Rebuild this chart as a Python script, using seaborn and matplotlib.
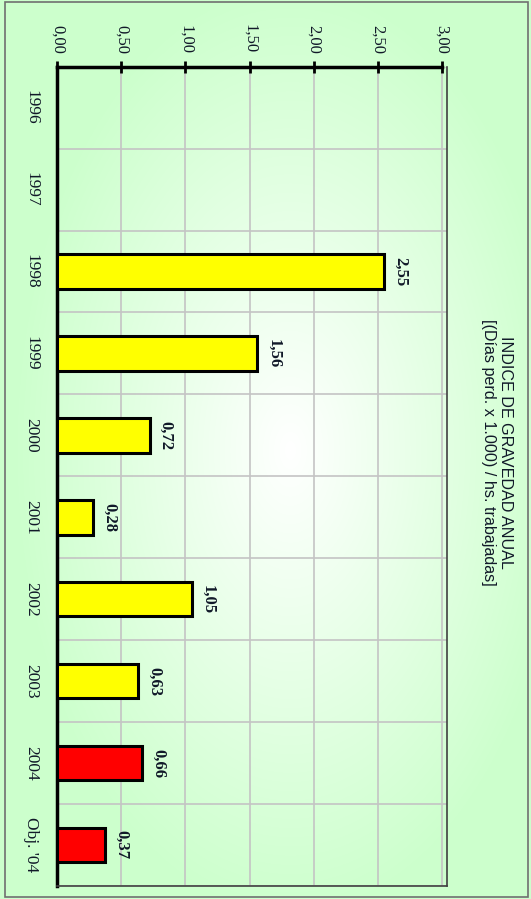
import numpy as np
import pandas as pd
import matplotlib
matplotlib.use("Agg")
import matplotlib.pyplot as plt
from matplotlib.patches import Rectangle
import seaborn as sns

categories = ["1996", "1997", "1998", "1999", "2000", "2001", "2002", "2003", "2004", "Obj. '04"]
values = [np.nan, np.nan, 2.55, 1.56, 0.72, 0.28, 1.05, 0.63, 0.66, 0.37]
bar_colors = ["#FFFF00"] * 8 + ["#FF0000"] * 2
x_ticks = [0.0, 0.5, 1.0, 1.5, 2.0, 2.5, 3.0]
title = "INDICE DE GRAVEDAD ANUAL\n[(Días perd. x 1.000) / hs. trabajadas]"

sns.set_theme(style="white")
plt.rcParams["font.family"] = ["Liberation Serif", "DejaVu Serif"]

W, H = 531, 899
fig = plt.figure(figsize=(W / 100, H / 100), dpi=100)

# background gradient
bg = fig.add_axes([0, 0, 1, 1], zorder=0)
yy, xx = np.mgrid[0:H, 0:W]
r = np.sqrt(((xx - 290) / 320.0) ** 2 + ((yy - 450) / 540.0) ** 2)
t = np.clip(r * 1.15, 0, 1) ** 1.0
white = np.array([1.0, 1.0, 1.0])
green = np.array([204, 255, 204]) / 255.0
img = white[None, None, :] * (1 - t[..., None]) + green[None, None, :] * t[..., None]
bg.imshow(img, extent=[0, W, H, 0], aspect="auto")
bg.set_xlim(0, W)
bg.set_ylim(H, 0)
bg.axis("off")
bg.add_patch(Rectangle((5, 2), 523, 895, fill=False, edgecolor="#707070", linewidth=1.2))

ax = fig.add_axes([57.3 / W, (H - 886) / H, (447.3 - 57.3) / W, (886 - 66.7) / H], zorder=1)
ax.set_facecolor("none")

df = pd.DataFrame({"cat": categories, "val": values})
sns.barplot(data=df, x="val", y="cat", hue="cat", order=categories, hue_order=categories,
            palette=dict(zip(categories, bar_colors)), orient="h", width=0.42,
            saturation=1, edgecolor="black", linewidth=2.2, legend=False, ax=ax, zorder=3)

xmax = 3.0 * (447.3 - 57.3) / (441.7 - 57.3)
ax.set_xlim(0, xmax)
ax.set_ylim(len(categories) - 0.5, -0.5)

# x axis on top
ax.xaxis.tick_top()
ax.set_xticks(x_ticks)
ax.set_xticklabels([f"{v:.2f}".replace(".", ",") for v in x_ticks], rotation=-90, fontsize=12)
ax.tick_params(axis="x", direction="inout", length=9, width=2, color="black", pad=5, labelcolor="#101828")

# y ticks at category boundaries, labels at centers
ax.set_yticks(np.arange(-0.5, len(categories), 1.0))
ax.set_yticklabels([])
ax.set_yticks(np.arange(len(categories)), minor=True)
ax.set_yticklabels(categories, minor=True, rotation=-90, fontsize=12.5, va="center")
ax.tick_params(axis="y", which="major", direction="inout", length=9, width=2, color="black")
ax.tick_params(axis="y", which="minor", length=0, pad=13, labelcolor="#101828")

ax.set_xlabel("")
ax.set_ylabel("")

ax.grid(True, which="major", axis="both", color="#c4c4c4", linewidth=1.2, zorder=0)
ax.set_axisbelow(True)

for s in ["left", "top"]:
    ax.spines[s].set_color("black")
    ax.spines[s].set_linewidth(2.5)
ax.spines["top"].set_bounds(0, 3.0)
for s in ["right", "bottom"]:
    ax.spines[s].set_color("#404040")
    ax.spines[s].set_linewidth(1.2)

for i, v in enumerate(values):
    if not np.isnan(v):
        ax.annotate(f"{v:.2f}".replace(".", ","), xy=(v, i), xytext=(6, 0),
                    textcoords="offset points", rotation=-90, ha="left", va="center",
                    fontsize=12, fontweight="bold", color="#101828")

fig.text(497 / W, 1 - 452 / H, title, rotation=-90, ha="center", va="center",
         fontsize=11.6, family=["Liberation Sans Narrow", "Liberation Sans", "DejaVu Sans"],
         color="#101828", linespacing=1.15, multialignment="center")

fig.savefig("out.png", dpi=100)
